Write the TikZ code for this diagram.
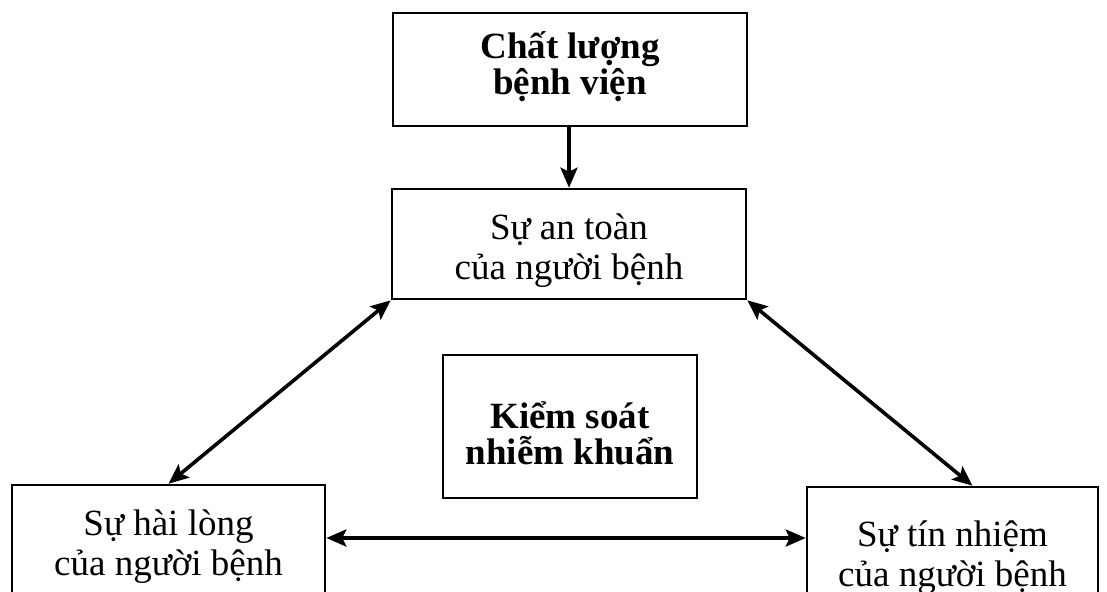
\documentclass[tikz,border=0pt]{standalone}
\usepackage{fontspec}
\setmainfont{Liberation Serif}
\usetikzlibrary{arrows.meta, positioning, calc}

\begin{document}
\begin{tikzpicture}[
  x=1pt, y=-1pt,
  box/.style={rectangle, draw=black, line width=2.6pt,
              minimum width=#1, minimum height=110pt,
              text height=72pt, text depth=2pt,
              font=\fontsize{37}{40}\selectfont, align=center},
  boldbox/.style={box=#1, font=\fontsize{37}{36}\selectfont\bfseries},
  arr/.style={-{Stealth[length=20pt, width=17pt, inset=4pt]}, line width=3.6pt},
  dblarr/.style={{Stealth[length=20pt, width=17pt, inset=4pt]}-{Stealth[length=20pt, width=17pt, inset=4pt]}, line width=3.6pt}
]
\useasboundingbox (0,0) rectangle (1107,591);
\clip (0,0) rectangle (1107,591);

% Top: hospital quality -> patient safety
\node[boldbox=354pt, minimum height=113pt, text height=60pt, text depth=10pt]
  (chatluong) at (570,69.5) {Chất lượng\\bệnh viện};
\node[box=354pt] (antoan) at (569,244) {Sự an toàn\\của người bệnh};

% Centre
\node[boldbox=254pt, minimum height=143pt, text height=80pt, text depth=5pt]
  (ksnk) at (570,426.5) {Kiểm soát\\nhiễm khuẩn};

% Bottom row
\node[box=313pt] (hailong) at (168.5,540) {Sự hài lòng\\của người bệnh};
\node[box=291pt, text height=88pt, text depth=0pt]
  (tinnhiem) at (952.5,542) {Sự tín nhiệm\\của người bệnh};

% Arrows
\draw[arr] (chatluong.south -| antoan.north) -- (antoan.north);
\draw[dblarr] (antoan.south west) -- (hailong.north);
\draw[dblarr] (antoan.south east) -- ([xshift=20pt]tinnhiem.north);
\draw[dblarr] ([yshift=2pt]hailong.east) -- ([yshift=2pt]hailong.east -| tinnhiem.west);

\end{tikzpicture}
\end{document}
